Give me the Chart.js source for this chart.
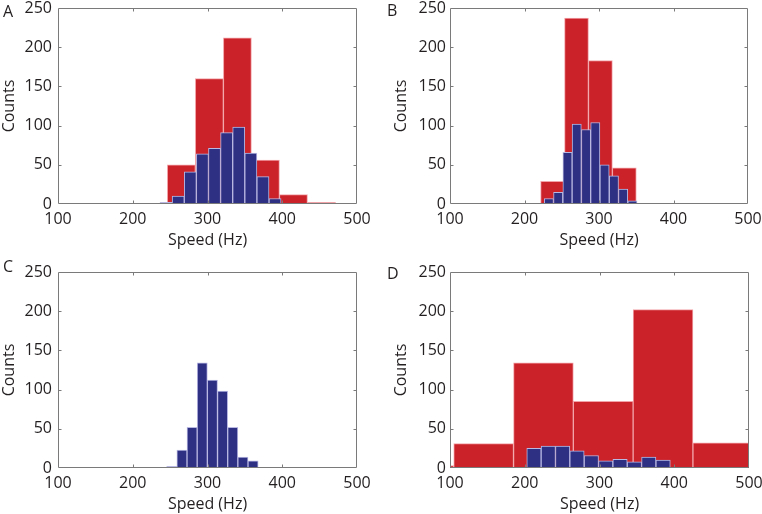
<!DOCTYPE html>
<html>
<head>
<meta charset="utf-8">
<script src="https://cdn.jsdelivr.net/npm/chart.js@4.4.1/dist/chart.umd.min.js"></script>
<style>
  body { margin: 0; background: #fff; }
  #fig { position: relative; width: 762px; height: 514px; }
  canvas { position: absolute; }
</style>
</head>
<body>
<div id="fig">
  <canvas id="panel-a" width="381" height="257" style="left:0;top:0"></canvas>
  <canvas id="panel-b" width="381" height="257" style="left:381px;top:0"></canvas>
  <canvas id="panel-c" width="381" height="257" style="left:0;top:257px"></canvas>
  <canvas id="panel-d" width="381" height="257" style="left:381px;top:257px"></canvas>
</div>
<script>
// Axis ticks shared by all panels
const speedTicks = [100, 200, 300, 400, 500];
const countTicks = [0, 50, 100, 150, 200, 250];

// Panel A (bin centres in Hz, counts)
const aRedSpeed = [265, 302.5, 340, 377.5, 415, 452.5];
const aRedCounts = [50, 160, 212, 56, 12, 2];
const aBlueSpeed = [244.6, 260.8, 277, 293.2, 309.4, 325.6, 341.8, 358, 374.2, 390.4];
const aBlueCounts = [2, 10, 41, 64, 71, 91, 98, 65, 35, 7];

// Panel B
const bRedSpeed = [237.7, 269.8, 301.9, 334];
const bRedCounts = [29, 237, 183, 46];
const bBlueSpeed = [232.7, 245.2, 257.7, 270.1, 282.6, 295, 307.5, 320, 332.4, 344.9];
const bBlueCounts = [7, 15, 66, 102, 95, 104, 50, 36, 19, 4];

// Panel C (blue only)
const cBlueSpeed = [238.6, 252.2, 265.8, 279.4, 293, 306.6, 320.2, 333.8, 347.4, 361];
const cBlueCounts = [0, 2, 23, 52, 134, 112, 98, 52, 14, 9];

// Panel D
const dRedSpeed = [65, 145, 225, 305, 385, 465];
const dRedCounts = [3, 31, 134, 85, 202, 32];
const dBlueSpeed = [212.3, 231.5, 250.7, 269.9, 289.1, 308.3, 327.5, 346.7, 365.9, 385.1];
const dBlueCounts = [25, 28, 28, 22, 16, 9, 11, 8, 14, 10];

const RED = '#cb2229';
const RED_EDGE = '#f2a3a8';
const BLUE = '#2e3084';
const BLUE_EDGE = '#b9b8e2';
const AXIS = '#7a7a7a';
const TEXT = '#231f20';
const FONT = "'Open Sans', sans-serif";

const panels = [
  { id: 'panel-a', letter: 'A', lx: 3, ly: 17, red: [aRedSpeed, aRedCounts], blue: [aBlueSpeed, aBlueCounts],
    pad: { top: 8, right: 24, bottom: 7, left: 0 }, yWidth: 58, titlePad: 0, tickPad: 6 },
  { id: 'panel-b', letter: 'B', lx: 6, ly: 16, red: [bRedSpeed, bRedCounts], blue: [bBlueSpeed, bBlueCounts],
    pad: { top: 8, right: 14, bottom: 7, left: 0 }, yWidth: 69, titlePad: 11, tickPad: 4 },
  { id: 'panel-c', letter: 'C', lx: 3, ly: 15, red: null, blue: [cBlueSpeed, cBlueCounts],
    pad: { top: 15, right: 24, bottom: 0, left: 0 }, yWidth: 58, titlePad: 0, tickPad: 6 },
  { id: 'panel-d', letter: 'D', lx: 6, ly: 22, red: [dRedSpeed, dRedCounts], blue: [dBlueSpeed, dBlueCounts],
    pad: { top: 15, right: 13, bottom: 0, left: 0 }, yWidth: 69, titlePad: 11, tickPad: 4 }
];

function toPoints(xs, ys) {
  return xs.map((x, i) => ({ x: x, y: ys[i] }));
}

// Box around the plot with inward ticks, plus the panel letter
const boxPlugin = {
  id: 'box',
  afterDatasetsDraw(chart, args, opts) {
    const { ctx, chartArea: a, scales } = chart;
    const l = Math.round(a.left) + 0.5, r = Math.round(a.right) - 0.5;
    const t = Math.round(a.top) + 0.5, b = Math.round(a.bottom) - 0.5;
    ctx.save();
    ctx.strokeStyle = AXIS;
    ctx.lineWidth = 1;
    ctx.beginPath();
    ctx.rect(l, t, r - l, b - t);
    scales.x.ticks.forEach(tk => {
      if (tk.value === speedTicks[0] || tk.value === speedTicks[speedTicks.length - 1]) return;
      const px = Math.round(scales.x.getPixelForValue(tk.value)) + 0.5;
      ctx.moveTo(px, b); ctx.lineTo(px, b - 3);
      ctx.moveTo(px, t); ctx.lineTo(px, t + 3);
    });
    scales.y.ticks.forEach(tk => {
      if (tk.value === countTicks[0] || tk.value === countTicks[countTicks.length - 1]) return;
      const py = Math.round(scales.y.getPixelForValue(tk.value)) + 0.5;
      ctx.moveTo(l, py); ctx.lineTo(l + 3, py);
      ctx.moveTo(r, py); ctx.lineTo(r - 3, py);
    });
    ctx.stroke();
    ctx.fillStyle = TEXT;
    ctx.font = '16px ' + FONT;
    ctx.textBaseline = 'alphabetic';
    ctx.textAlign = 'left';
    ctx.fillText(opts.letter, opts.lx, opts.ly);
    ctx.restore();
  }
};

function makePanel(p) {
  const datasets = [{
    data: toPoints(p.blue[0], p.blue[1]),
    xAxisID: 'x2',
    backgroundColor: BLUE,
    borderColor: BLUE_EDGE,
    borderWidth: 1,
    barPercentage: 1,
    categoryPercentage: 1,
    grouped: false,
    clip: 0
  }];
  if (p.red) {
    datasets.push({
      data: toPoints(p.red[0], p.red[1]),
      xAxisID: 'x',
      backgroundColor: RED,
      borderColor: RED_EDGE,
      borderWidth: 1,
      barPercentage: 1,
      categoryPercentage: 1,
      grouped: false,
      clip: 0
    });
  }

  const xScale = (shown) => ({
    type: 'linear',
    display: shown,
    offset: false,
    min: speedTicks[0],
    max: speedTicks[speedTicks.length - 1],
    afterBuildTicks: s => { s.ticks = speedTicks.map(v => ({ value: v })); },
    afterFit: s => { if (shown) s.height = 46; s.paddingLeft = 0; s.paddingRight = 0; },
    grid: { display: false, drawTicks: false, offset: false },
    border: { display: false },
    ticks: { color: TEXT, font: { family: FONT, size: 16 }, padding: 6, maxRotation: 0, autoSkip: false },
    title: { display: shown, text: 'Speed (Hz)', color: TEXT, font: { family: FONT, size: 16 }, padding: 0 }
  });

  new Chart(document.getElementById(p.id), {
    type: 'bar',
    data: { datasets },
    options: {
      responsive: false,
      animation: false,
      devicePixelRatio: 1,
      layout: { padding: p.pad },
      plugins: {
        legend: { display: false },
        tooltip: { enabled: false },
        box: { letter: p.letter, lx: p.lx, ly: p.ly }
      },
      scales: {
        x: xScale(true),
        x2: xScale(false),
        y: {
          type: 'linear',
          min: countTicks[0],
          max: countTicks[countTicks.length - 1],
          afterBuildTicks: s => { s.ticks = countTicks.map(v => ({ value: v })); },
          afterFit: s => { s.width = p.yWidth; s.paddingTop = 0; s.paddingBottom = 0; },
          grid: { display: false, drawTicks: false },
          border: { display: false },
          ticks: { color: TEXT, font: { family: FONT, size: 16 }, padding: p.tickPad },
          title: { display: true, text: 'Counts', color: TEXT, font: { family: FONT, size: 16 }, padding: { top: p.titlePad, bottom: 0 } }
        }
      }
    },
    plugins: [boxPlugin]
  });
}

panels.forEach(makePanel);
</script>
</body>
</html>
